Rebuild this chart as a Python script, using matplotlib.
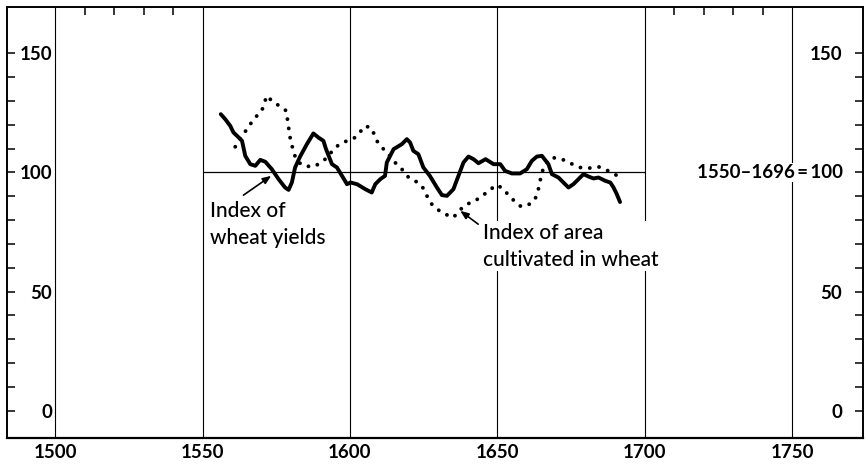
import matplotlib
matplotlib.use('Agg')
import matplotlib.pyplot as plt

plt.rcParams['font.family'] = ['Lato', 'DejaVu Sans']

""" Data read from the chart """
# Index of wheat yields (solid line)
yieldYears = [1556.2, 1557.7, 1559.4, 1560.5, 1561.7, 1563.4, 1564.5, 1566.2, 1567.9, 1569.6,
              1571.3, 1573.5, 1575.8, 1578.0, 1579.2, 1580.3, 1581.4, 1583.1, 1585.4, 1587.6,
              1589.3, 1591.0, 1591.9, 1593.9, 1595.6, 1597.3, 1599.0, 1600.2, 1602.4, 1605.2,
              1607.4, 1608.6, 1610.3, 1611.9, 1612.5, 1614.8, 1617.6, 1619.3, 1620.4, 1621.5,
              1623.2, 1624.9, 1627.1, 1629.5, 1631.2, 1632.9, 1635.1, 1636.8, 1638.5, 1640.2,
              1641.9, 1643.6, 1646.0, 1648.7, 1651.0, 1652.6, 1654.9, 1657.7, 1660.0, 1661.7,
              1663.4, 1665.1, 1667.3, 1668.5, 1670.7, 1672.4, 1674.1, 1675.8, 1677.5, 1679.2,
              1680.9, 1682.6, 1684.3, 1686.6, 1688.3, 1689.4, 1690.5, 1691.6]
yieldIndex = [124.5, 122.4, 119.6, 116.8, 115.4, 113.3, 107.0, 103.5, 102.8, 105.3,
              104.5, 101.4, 97.2, 93.7, 92.7, 95.8, 102.1, 106.7, 111.9, 116.4,
              114.7, 113.3, 109.8, 103.5, 102.1, 98.6, 95.1, 95.8, 95.1, 93.0,
              91.6, 95.1, 97.2, 98.6, 104.2, 109.8, 111.9, 114.0, 112.6, 109.1,
              107.7, 102.1, 98.6, 93.7, 90.5, 90.2, 93.0, 98.6, 104.2, 106.7,
              105.6, 103.9, 105.6, 103.5, 103.5, 100.7, 99.6, 99.6, 101.4, 104.9,
              106.7, 107.0, 103.5, 99.3, 97.9, 95.8, 93.7, 95.1, 97.2, 99.3,
              98.3, 97.5, 97.9, 96.5, 95.8, 93.7, 90.9, 87.6]

# Index of area cultivated in wheat (dotted line)
areaYears = [1561.1, 1562.8, 1564.5, 1566.2, 1567.9, 1570.1, 1571.8, 1574.1, 1576.1, 1578.4,
             1579.2, 1579.7, 1580.9, 1582.0, 1584.2, 1587.6, 1589.9, 1592.7, 1594.2, 1596.5,
             1599.0, 1601.8, 1603.5, 1605.2, 1607.4, 1609.1, 1611.4, 1613.7, 1615.3, 1617.6,
             1619.9, 1622.1, 1624.4, 1626.1, 1627.2, 1629.5, 1632.3, 1635.1, 1637.2, 1639.7,
             1642.5, 1645.1, 1647.3, 1649.3, 1651.5, 1653.8, 1655.7, 1658.0, 1660.9, 1662.8,
             1663.9, 1664.5, 1665.1, 1666.2, 1668.5, 1671.9, 1674.7, 1678.1, 1680.9, 1684.3,
             1686.9, 1689.2, 1692.2]
areaIndex = [110.8, 114.3, 117.2, 120.3, 123.1, 125.9, 132.2, 129.4, 128.0, 125.9,
             118.9, 114.7, 108.4, 104.9, 102.8, 102.4, 103.9, 106.7, 109.5, 111.9,
             113.3, 114.7, 117.1, 119.6, 118.5, 113.3, 109.8, 106.7, 104.2, 101.4,
             97.9, 96.5, 94.4, 90.2, 87.4, 84.6, 82.5, 81.1, 84.2, 86.7,
             88.1, 90.5, 92.3, 94.7, 93.7, 90.5, 88.1, 85.7, 86.7, 88.8,
             93.0, 96.5, 100.0, 103.5, 106.3, 105.6, 103.9, 102.1, 101.8, 102.4,
             101.1, 99.7, 97.5]

gridYears = [1500, 1550, 1600, 1650, 1700, 1750]
topTickYears = [1510, 1520, 1530, 1540, 1710, 1720, 1730, 1740]
majorY = [0, 50, 100, 150]
rightLabels = ['0', '50', '', '150']   # the 100 on the right is part of the base label
minorY = [10, 20, 30, 40, 60, 70, 80, 90, 110, 120, 130, 140]
baseStart, baseEnd, baseValue = 1550, 1700, 100
baseLabel = '1550\u20131696\u2009=\u2009100'

yieldLabel = 'Index of\nwheat yields'
areaLabel = 'Index of area\ncultivated in wheat'


""" Plot """
fig = plt.figure(figsize=(8.65, 4.67), dpi=100)
ax = fig.add_axes([0.0081, 0.0621, 0.9896, 0.9229])

ax.set_xlim(1483.7, 1774.0)
ax.set_ylim(-11.5, 169.5)

# vertical grid at the labelled years
ax.set_xticks(gridYears)
ax.set_xticks(topTickYears, minor=True)
ax.grid(axis='x', which='major', color='black', lw=0.8)
ax.set_axisbelow(True)
ax.tick_params(axis='x', which='major', length=0, pad=4, labelsize=13.5)
ax.tick_params(axis='x', which='minor', bottom=False, top=True, direction='in',
               length=6, width=1.1)
for lab in ax.get_xticklabels():
    lab.set_fontweight('bold')

# left y axis, labels inside the frame
ax.set_yticks(majorY)
ax.set_yticks(minorY, minor=True)
ax.tick_params(axis='y', which='both', direction='in', length=6, width=1.1)
ax.tick_params(axis='y', which='major', pad=-32.5, labelsize=13.5)
for lab in ax.get_yticklabels():
    lab.set_fontweight('bold')

# right y axis, same scale
ax2 = ax.twinx()
ax2.set_ylim(ax.get_ylim())
ax2.set_yticks(majorY, rightLabels)
ax2.set_yticks(minorY, minor=True)
ax2.tick_params(axis='y', which='both', direction='in', length=6, width=1.1)
ax2.tick_params(axis='y', which='major', pad=-15, labelsize=13.5)
for lab in ax2.get_yticklabels():
    lab.set_fontweight('bold')
    lab.set_horizontalalignment('right')

for a in [ax, ax2]:
    for sp in a.spines.values():
        sp.set_linewidth(1.2)
ax.spines['bottom'].set_linewidth(1.6)

# base period line
ax.hlines(baseValue, baseStart, baseEnd, color='black', lw=0.9)

ax.plot(yieldYears, yieldIndex, color='black', lw=2.8,
        solid_capstyle='round', solid_joinstyle='round', zorder=3)
ax.plot(areaYears, areaIndex, color='black', lw=2.8,
        linestyle=(0, (0.01, 2.4)), dash_capstyle='round', zorder=3)

# labels and arrows
ax.text(1552.6, 88.0, yieldLabel, ha='left', va='top', fontsize=15,
        fontweight='medium', linespacing=1.45, zorder=4)
ax.annotate('', xy=(1573.3, 98.6), xytext=(1563.9, 90.5),
            arrowprops=dict(arrowstyle='-|>,head_length=0.5,head_width=0.2',
                            color='black', lw=1.2, shrinkA=0, shrinkB=0))

ax.text(1645.2, 79.0, areaLabel, ha='left', va='top', fontsize=15,
        fontweight='medium', linespacing=1.45, zorder=4,
        bbox=dict(facecolor='white', edgecolor='none', pad=1))
ax.annotate('', xy=(1637.4, 83.9), xytext=(1643.5, 78.3),
            arrowprops=dict(arrowstyle='-|>,head_length=0.5,head_width=0.2',
                            color='black', lw=1.2, shrinkA=0, shrinkB=0))

ax.text(1767.3, baseValue, baseLabel, ha='right', va='center', fontsize=13.5,
        fontweight='bold', zorder=4,
        bbox=dict(facecolor='white', edgecolor='none', pad=1))

fig.savefig('out.png', dpi=100)
